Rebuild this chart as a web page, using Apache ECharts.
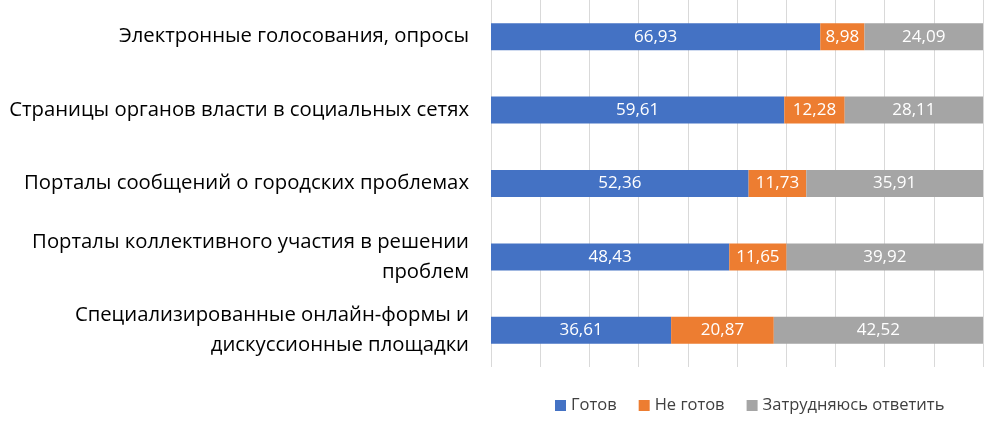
<!DOCTYPE html>
<html><head><meta charset="utf-8">
<script src="https://cdn.jsdelivr.net/npm/echarts@6/dist/echarts.min.js"></script>
<style>html,body{margin:0;padding:0;background:#fff}</style>
</head><body>
<div id="chart" style="width:994px;height:429px"></div>
<script>
const categories = [
  'Специализированные онлайн-формы и\nдискуссионные площадки',
  'Порталы коллективного участия в решении\nпроблем',
  'Порталы сообщений о городских проблемах',
  'Страницы органов власти в социальных сетях',
  'Электронные голосования, опросы'
];
const ready = [36.61, 48.43, 52.36, 59.61, 66.93];
const notReady = [20.87, 11.65, 11.73, 12.28, 8.98];
const unsure = [42.52, 39.92, 35.91, 28.11, 24.09];

const chart = echarts.init(document.getElementById('chart'));
const fmt = p => p.value.toFixed(2).replace('.', ',');
function mk(name, data, color) {
  return {
    name, type: 'bar', stack: 'all', data, barWidth: 27,
    itemStyle: { color },
    label: { show: true, color: '#fff', fontSize: 17, fontFamily: 'Open Sans', formatter: fmt }
  };
}
chart.setOption({
  animation: false,
  grid: { left: 491, right: 11, top: 0, bottom: 62, containLabel: false },
  legend: {
    bottom: 10, left: 550, itemWidth: 11, itemHeight: 11, icon: 'rect', itemGap: 22,
    textStyle: { fontSize: 16.5, color: '#404040', fontFamily: 'Open Sans' }
  },
  xAxis: {
    type: 'value', min: 0, max: 100, interval: 10,
    axisLabel: { show: false }, axisLine: { show: false }, axisTick: { show: false },
    splitLine: { lineStyle: { color: '#d9d9d9', width: 1 } }
  },
  yAxis: {
    type: 'category', data: categories,
    axisLine: { show: false }, axisTick: { show: false },
    axisLabel: { fontSize: 20.3, color: '#000', fontFamily: 'Open Sans', margin: 22, lineHeight: 30, align: 'right' }
  },
  series: [
    mk('Готов', ready, '#4472c4'),
    mk('Не готов', notReady, '#ed7d31'),
    mk('Затрудняюсь ответить', unsure, '#a5a5a5')
  ]
});
</script>
</body></html>
